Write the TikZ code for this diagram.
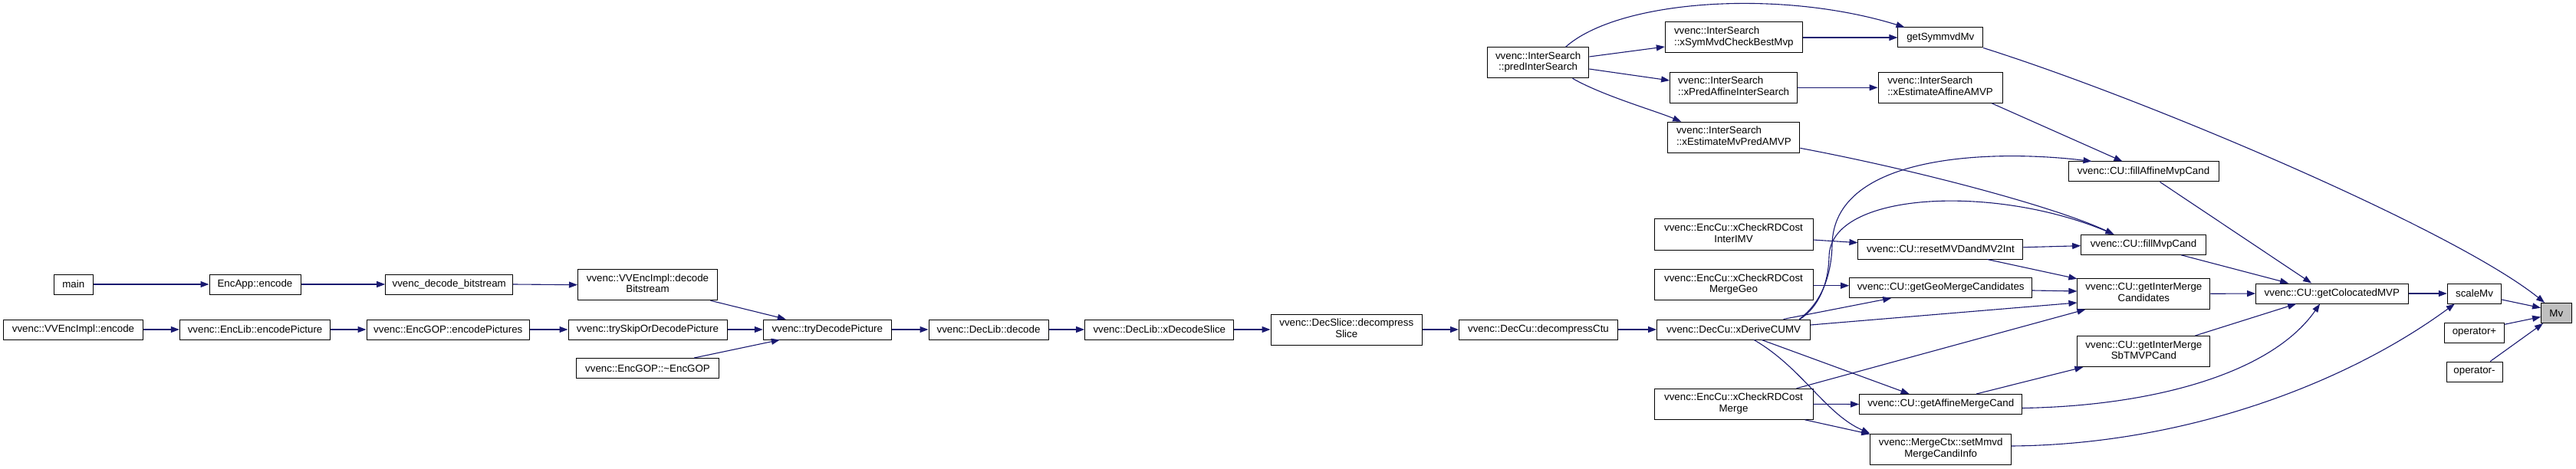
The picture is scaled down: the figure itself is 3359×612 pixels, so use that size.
\documentclass[tikz,border=0pt]{standalone}
\usepackage{fontspec}
\setmainfont{Liberation Sans}
\usetikzlibrary{arrows.meta,calc}
\definecolor{edgecol}{HTML}{191970}
\definecolor{mvgrey}{HTML}{BFBFBF}
\newcommand{\fnfont}{\fontsize{13.33}{14.4}\selectfont}
\newcommand{\twoc}[2]{\begin{tabular}{@{}c@{}}#1\\#2\end{tabular}}
\newcommand{\twol}[2]{\begin{tabular}{@{}l@{}}#1\\#2\end{tabular}}
\tikzset{
  fn/.style={draw=black, line width=1pt, fill=white, inner sep=0pt, font=\fnfont, minimum height=26pt},
  fntwo/.style={fn, minimum height=40pt},
  edge/.style={draw=edgecol, line width=1.1pt, -{Triangle[length=11pt,width=8pt]}},
}
\begin{document}
\begin{tikzpicture}[x=1pt,y=-1pt]
\useasboundingbox (0,0) rectangle (3359,612);
% left chain
\node[fn, minimum width=50.5pt] (main) at (95.8,371) {main};
\node[fn, minimum width=119pt] (encapp) at (332.5,371) {EncApp::encode};
\node[fn, minimum width=166pt] (vdb) at (585.7,371) {vvenc\_decode\_bitstream};
\node[fn, minimum width=182pt] (vveenc) at (95.5,430) {vvenc::VVEncImpl::encode};
\node[fn, minimum width=196.4pt] (enclib) at (332.6,430) {vvenc::EncLib::encodePicture};
\node[fn, minimum width=212.6pt] (encgop) at (584.3,430) {vvenc::EncGOP::encodePictures};
\node[fntwo, minimum width=182pt] (dbs) at (844.5,371.7) {\twoc{vvenc::VVEncImpl::decode}{Bitstream}};
\node[fn, minimum width=207pt] (tsd) at (844.5,430) {vvenc::trySkipOrDecodePicture};
\node[fn, minimum width=185.6pt] (egd) at (844.5,480.5) {vvenc::EncGOP::\textasciitilde EncGOP};
\node[fn, minimum width=167pt] (tdp) at (1078.8,430) {vvenc::tryDecodePicture};
\node[fn, minimum width=156pt] (dld) at (1289,430) {vvenc::DecLib::decode};
\node[fn, minimum width=194.3pt] (xds) at (1511.8,430) {vvenc::DecLib::xDecodeSlice};
\node[fntwo, minimum width=197.5pt] (dsl) at (1755.8,430) {\twoc{vvenc::DecSlice::decompress}{Slice}};
\node[fn, minimum width=207pt] (dct) at (2006,430) {vvenc::DecCu::decompressCtu};
\node[fn, minimum width=200pt] (xd) at (2260.6,430) {vvenc::DecCu::xDeriveCUMV};
% inter search
\node[fntwo, minimum width=132.4pt] (pis) at (2005.6,81.8) {\twoc{vvenc::InterSearch}{::predInterSearch}};
\node[fntwo, minimum width=179pt] (xsm) at (2260.8,49) {\twol{vvenc::InterSearch}{::xSymMvdCheckBestMvp}};
\node[fntwo, minimum width=166pt] (xpa) at (2260.6,114.3) {\twol{vvenc::InterSearch}{::xPredAffineInterSearch}};
\node[fntwo, minimum width=172.2pt] (xem) at (2260.8,179.3) {\twol{vvenc::InterSearch}{::xEstimateMvPredAMVP}};
\node[fntwo, minimum width=207pt] (xci) at (2260.5,306) {\twoc{vvenc::EncCu::xCheckRDCost}{InterIMV}};
\node[fntwo, minimum width=207pt] (xcg) at (2260.5,371.7) {\twoc{vvenc::EncCu::xCheckRDCost}{MergeGeo}};
\node[fntwo, minimum width=207pt] (xcm) at (2260.5,527.3) {\twoc{vvenc::EncCu::xCheckRDCost}{Merge}};
% column 2530
\node[fn, minimum width=110.7pt] (gsm) at (2530.3,49) {getSymmvdMv};
\node[fntwo, minimum width=162pt] (xea) at (2530,114.3) {\twol{vvenc::InterSearch}{::xEstimateAffineAMVP}};
\node[fn, minimum width=215pt] (rmv) at (2530.4,325) {vvenc::CU::resetMVDandMV2Int};
\node[fn, minimum width=238pt] (ggm) at (2530.7,375.5) {vvenc::CU::getGeoMergeCandidates};
\node[fn, minimum width=212pt] (gam) at (2530.7,527.5) {vvenc::CU::getAffineMergeCand};
\node[fntwo, minimum width=184pt] (smm) at (2530.7,586) {\twoc{vvenc::MergeCtx::setMmvd}{MergeCandiInfo}};
% column 2795
\node[fn, minimum width=196pt] (fam) at (2795,224) {vvenc::CU::fillAffineMvpCand};
\node[fn, minimum width=162.7pt] (fmc) at (2795,319.3) {vvenc::CU::fillMvpCand};
\node[fntwo, minimum width=173pt] (gim) at (2795.4,383.3) {\twoc{vvenc::CU::getInterMerge}{Candidates}};
\node[fntwo, minimum width=173pt] (gsb) at (2795.4,458.5) {\twoc{vvenc::CU::getInterMerge}{SbTMVPCand}};
% right
\node[fn, minimum width=198.4pt] (gcm) at (3040.8,383) {vvenc::CU::getColocatedMVP};
\node[fn, minimum width=70.5pt] (smv) at (3226.5,383) {scaleMv};
\node[fn, minimum width=77.5pt] (opp) at (3226.5,434) {operator+};
\node[fn, minimum width=73pt] (opm) at (3226.5,485) {operator-};
\node[fn, fill=mvgrey, minimum width=39.5pt] (mv) at (3333.3,408.5) {Mv};
% edges left
\draw[edge] (main.east) -- (encapp.west);
\draw[edge] (encapp.east) -- (vdb.west);
\draw[edge] (vdb.east) -- (dbs.west);
\draw[edge] (vveenc.east) -- (enclib.west);
\draw[edge] (enclib.east) -- (encgop.west);
\draw[edge] (encgop.east) -- (tsd.west);
\draw[edge] ($(dbs.south east)+(-9.6,0)$) -- ($(tdp.north west)+(30,0)$);
\draw[edge] (tsd.east) -- (tdp.west);
\draw[edge] ($(egd.north east)+(-32.6,0)$) -- ($(tdp.south west)+(22,0)$);
\draw[edge] (tdp.east) -- (dld.west);
\draw[edge] (dld.east) -- (xds.west);
\draw[edge] (xds.east) -- (dsl.west);
\draw[edge] (dsl.east) -- (dct.west);
\draw[edge] (dct.east) -- (xd.west);
% xDeriveCUMV
\draw[edge] ($(xd.north east)+(-15,0)$) .. controls (2375,395) and (2388,360) .. (2389,320) .. controls (2390,200) and (2600,195) .. ($(fam.north west)+(31,0)$);
\draw[edge] ($(xd.north east)+(-14,0)$) .. controls (2372,400) and (2384,370) .. (2385,335) .. controls (2386,250) and (2600,240) .. ($(fmc.north west)+(43.3,0)$);
\draw[edge] ($(xd.north east)+(-35.6,0)$) -- ($(ggm.south west)+(55,0)$);
\draw[edge] ($(xd.east)+(0,-6)$) -- ($(gim.west)+(0,11.7)$);
\draw[edge] ($(xd.south east)+(-64,0)$) -- ($(gam.north west)+(65.4,0)$);
\draw[edge] ($(xd.south east)+(-74,0)$) .. controls (2350,480) and (2380,540) .. (smm.north west);
% EncCu
\draw[edge] (xcm.east) -- (gam.west);
\draw[edge] ($(xcm.south east)+(-11,0)$) -- ($(smm.north west)+(0,1)$);
\draw[edge] ($(xcm.north east)+(-22,0)$) -- ($(gim.south west)+(11,0)$);
\draw[edge] ($(xci.east)+(0,7)$) -- ($(rmv.west)+(0,-8.3)$);
\draw[edge] ($(xcg.east)+(0,1)$) -- ($(ggm.west)+(0,-2.8)$);
% CU
\draw[edge] ($(rmv.east)+(0,-2.3)$) -- ($(fmc.west)+(0,1.4)$);
\draw[edge] ($(rmv.south east)+(-47,0)$) -- ($(gim.north west)+(0,1)$);
\draw[edge] ($(ggm.east)+(0,3.5)$) -- ($(gim.west)+(0,-3.3)$);
\draw[edge] (gim.east) -- (gcm.west);
\draw[edge] ($(fmc.south west)+(131,0)$) -- ($(gcm.north west)+(43,0)$);
\draw[edge] ($(fam.south west)+(120,0)$) -- ($(gcm.north west)+(73,0)$);
\draw[edge] ($(gsb.north east)+(-20,0)$) -- ($(gcm.south west)+(53,0)$);
\draw[edge] ($(gam.east)+(0,5)$) .. controls (2800,530) and (2960,490) .. ($(gcm.south west)+(84,0)$);
\draw[edge] ($(gam.north west)+(153,0)$) -- ($(gsb.south west)+(8,0)$);
\draw[edge] ($(smm.east)+(0,-4)$) .. controls (2850,580) and (3060,500) .. ($(smv.south west)+(10,0)$);
\draw[edge] (gcm.east) -- (smv.west);
% Mv
\draw[edge] ($(smv.east)+(0,8)$) -- ($(mv.west)+(0,-6.8)$);
\draw[edge] ($(opp.east)+(0,-10.7)$) -- ($(mv.west)+(0,5)$);
\draw[edge] ($(opm.north east)+(-16.3,0)$) -- ($(mv.south west)+(3,0)$);
\draw[edge] (gsm.south east) .. controls (2800,130) and (3200,300) .. ($(mv.north west)+(5,0)$);
% InterSearch
\draw[edge] ($(pis.north east)+(-30.8,0)$) .. controls (2110,0) and (2320,-15) .. ($(gsm.north west)+(9,0)$);
\draw[edge] ($(pis.east)+(0,-7.8)$) -- ($(xsm.west)+(0,12)$);
\draw[edge] ($(pis.east)+(0,8.2)$) -- ($(xpa.west)+(0,-9.3)$);
\draw[edge] ($(pis.south east)+(-21.8,0)$) .. controls (2090,125) and (2160,145) .. ($(xem.north west)+(18,0)$);
\draw[edge] (xsm.east) -- (gsm.west);
\draw[edge] (xpa.east) -- (xea.west);
\draw[edge] ($(xea.south east)+(-14.3,0)$) -- ($(fam.north west)+(71,0)$);
\draw[edge] ($(xem.east)+(0,14)$) .. controls (2500,222) and (2680,270) .. ($(fmc.north west)+(43.3,0)$);
\end{tikzpicture}
\end{document}
